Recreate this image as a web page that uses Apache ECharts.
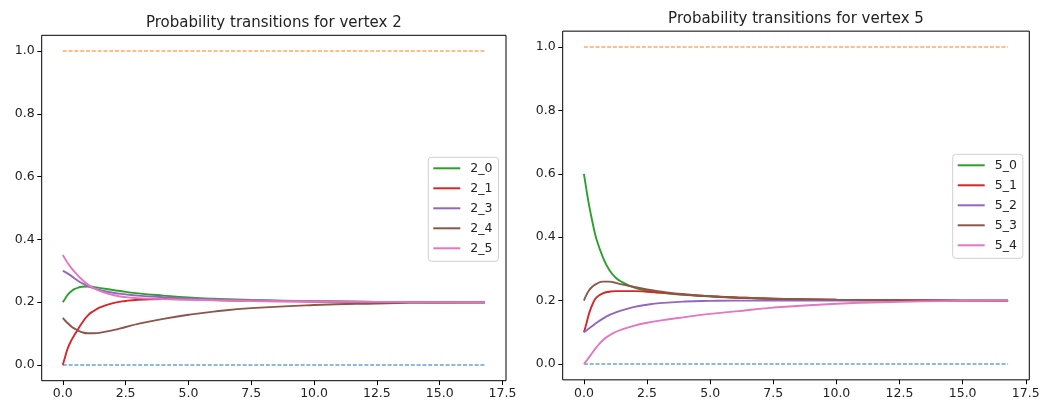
<!DOCTYPE html>
<html>
<head>
<meta charset="utf-8">
<script src="https://cdn.jsdelivr.net/npm/echarts@6/dist/echarts.min.js"></script>
<style>html,body{margin:0;padding:0;background:#fff}#c{width:1053px;height:405px}</style>
</head>
<body>
<div id="c"></div>
<script>
// ---- data ----
const titles = ['Probability transitions for vertex 2', 'Probability transitions for vertex 5'];
const xs = [0, 0.1, 0.2, 0.35, 0.5, 0.75, 1, 1.25, 1.5, 2, 2.5, 3, 4, 5, 6, 7.5, 10, 12.5, 15, 16.8];
const boundX = [0, 16.8];
const lowerBound = [0, 0];
const upperBound = [1, 1];

const names2 = ['2_0', '2_1', '2_3', '2_4', '2_5'];
const v2_0 = [0.2, 0.212, 0.224, 0.236, 0.243, 0.249, 0.25, 0.248, 0.245, 0.239, 0.233, 0.228, 0.221, 0.215, 0.211, 0.207, 0.203, 0.201, 0.2, 0.2];
const v2_1 = [0, 0.028, 0.054, 0.08, 0.1, 0.132, 0.158, 0.173, 0.184, 0.197, 0.204, 0.208, 0.21, 0.209, 0.207, 0.204, 0.202, 0.201, 0.2, 0.2];
const v2_3 = [0.3, 0.296, 0.291, 0.283, 0.274, 0.261, 0.251, 0.244, 0.238, 0.23, 0.225, 0.221, 0.216, 0.212, 0.209, 0.206, 0.203, 0.201, 0.2, 0.2];
const v2_4 = [0.15, 0.141, 0.133, 0.122, 0.114, 0.105, 0.101, 0.101, 0.103, 0.111, 0.121, 0.131, 0.147, 0.16, 0.17, 0.181, 0.191, 0.196, 0.199, 0.2];
const v2_5 = [0.35, 0.337, 0.324, 0.308, 0.294, 0.273, 0.256, 0.244, 0.235, 0.223, 0.216, 0.213, 0.21, 0.208, 0.206, 0.204, 0.202, 0.201, 0.2, 0.2];

const names5 = ['5_0', '5_1', '5_2', '5_3', '5_4'];
const v5_0 = [0.6, 0.55, 0.503, 0.443, 0.393, 0.337, 0.297, 0.273, 0.259, 0.241, 0.231, 0.225, 0.218, 0.213, 0.209, 0.205, 0.202, 0.201, 0.2, 0.2];
const v5_1 = [0.1, 0.128, 0.158, 0.19, 0.21, 0.223, 0.228, 0.23, 0.23, 0.23, 0.228, 0.225, 0.219, 0.214, 0.21, 0.206, 0.203, 0.201, 0.2, 0.2];
const v5_2 = [0.1, 0.106, 0.112, 0.121, 0.13, 0.143, 0.154, 0.162, 0.169, 0.18, 0.187, 0.192, 0.197, 0.199, 0.2, 0.2, 0.2, 0.2, 0.2, 0.2];
const v5_3 = [0.2, 0.218, 0.232, 0.245, 0.253, 0.26, 0.26, 0.256, 0.251, 0.243, 0.235, 0.229, 0.22, 0.214, 0.21, 0.206, 0.203, 0.201, 0.2, 0.2];
const v5_4 = [0, 0.01, 0.021, 0.037, 0.053, 0.075, 0.09, 0.101, 0.109, 0.121, 0.13, 0.137, 0.148, 0.158, 0.166, 0.178, 0.19, 0.196, 0.199, 0.2];

const xTicks = [0, 2.5, 5, 7.5, 10, 12.5, 15, 17.5];
const yTicks = [0, 0.2, 0.4, 0.6, 0.8, 1.0];

// ---- styling ----
const FONT = 'DejaVu Sans';
const curveColors = ['#2ca02c', '#d62728', '#9467bd', '#8c564b', '#e377c2'];
const grids = [
  {left: 41.7, top: 35.3, width: 464.3, height: 345.4},
  {left: 562.7, top: 31.15, width: 466.6, height: 348.7}
];
const pair = (x, y) => x.map((v, i) => [v, y[i]]);

const axisCommon = (ticks, i, min, max) => ({
  type: 'value', gridIndex: i, min, max,
  axisLine: {show: false, onZero: false},
  splitLine: {show: false},
  axisTick: {show: true, length: 4.4, lineStyle: {color: '#000', width: 1}, customValues: ticks},
  axisLabel: {customValues: ticks, margin: 7, color: '#222', fontFamily: FONT, fontSize: 12.5,
    formatter: v => v.toFixed(1)}
});
const xAxes = grids.map((g, i) => Object.assign(axisCommon(xTicks, i, -0.84, 17.64), {position: 'bottom'}));
const yAxes = grids.map((g, i) => Object.assign(axisCommon(yTicks, i, -0.05, 1.05), {position: 'left'}));

function dashed(name, i, y, color) {
  return {name, type: 'line', xAxisIndex: i, yAxisIndex: i, data: pair(boundX, y),
    symbol: 'none', lineStyle: {color, width: 1.2, type: [4, 1.8]}, silent: true, z: 2};
}
function curve(name, i, y, color) {
  return {name, type: 'line', xAxisIndex: i, yAxisIndex: i, data: pair(xs, y),
    symbol: 'none', smooth: 0.5, itemStyle: {color},
    lineStyle: {color, width: 1.9}, z: 3};
}

const vals2 = [v2_0, v2_1, v2_3, v2_4, v2_5];
const vals5 = [v5_0, v5_1, v5_2, v5_3, v5_4];
const series = [
  dashed('low2', 0, lowerBound, '#1f77b4'), dashed('up2', 0, upperBound, '#ff7f0e'),
  ...names2.map((n, k) => curve(n, 0, vals2[k], curveColors[k])),
  dashed('low5', 1, lowerBound, '#1f77b4'), dashed('up5', 1, upperBound, '#ff7f0e'),
  ...names5.map((n, k) => curve(n, 1, vals5[k], curveColors[k]))
];

function legend(names, left, top) {
  return {data: names.map(n => ({name: n, icon: 'rect'})), orient: 'vertical', left, top,
    itemWidth: 27, itemHeight: 2, itemGap: 6,
    padding: [4, 6, 6, 5], borderColor: '#d0d0d0', borderWidth: 1, borderRadius: 3,
    backgroundColor: 'rgba(255,255,255,0.8)', selectedMode: false,
    textStyle: {color: '#222', fontFamily: FONT, fontSize: 12.5, lineHeight: 14, padding: [0, 0, 0, 5]}};
}

const chart = echarts.init(document.getElementById('c'));
chart.setOption({
  animation: false,
  backgroundColor: '#fff',
  title: titles.map((t, i) => ({
    text: t, left: grids[i].left + grids[i].width / 2, textAlign: 'center',
    top: [15.3, 12][i], padding: 0,
    textStyle: {fontFamily: FONT, fontSize: 15, fontWeight: 'normal', color: '#222'}
  })),
  grid: grids.map(g => Object.assign({show: true, borderColor: '#000', borderWidth: 1, backgroundColor: 'transparent'}, g)),
  xAxis: xAxes,
  yAxis: yAxes,
  legend: [legend(names2, 428.3, 157.3), legend(names5, 952.7, 154.3)],
  series
});
</script>
</body>
</html>
